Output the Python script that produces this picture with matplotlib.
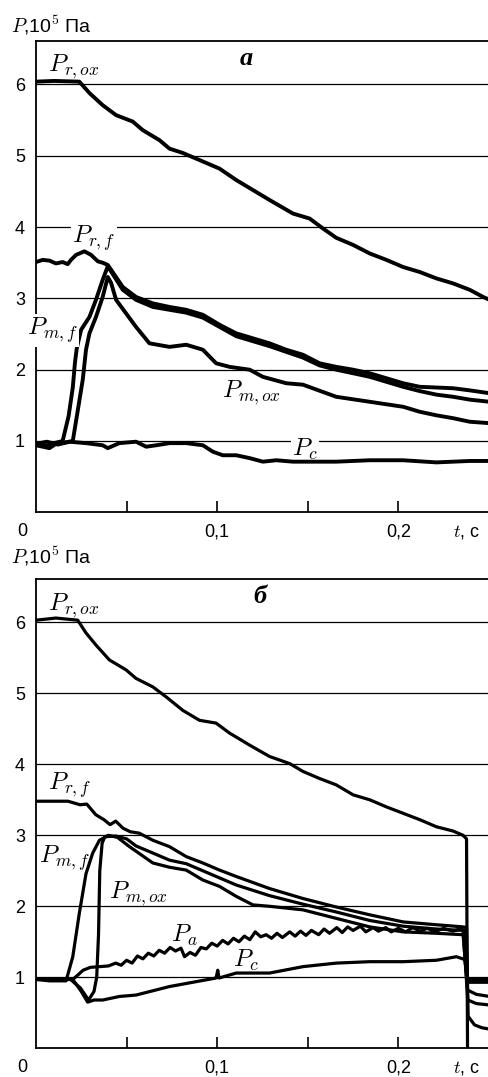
import matplotlib
matplotlib.use('Agg')
import matplotlib.pyplot as plt
from matplotlib.transforms import blended_transform_factory

plt.rcParams['font.family'] = ['Liberation Sans', 'DejaVu Sans']
plt.rcParams['mathtext.fontset'] = 'cm'

# ---------------- panel "а" ----------------
a_rox_t = [0, 0.010, 0.0239, 0.0295, 0.0368, 0.0442, 0.0534, 0.0589, 0.0681, 0.0737, 0.0810,
           0.0884, 0.1013, 0.1105, 0.1197, 0.1289, 0.1418, 0.1510, 0.1584, 0.1657, 0.1750,
           0.1842, 0.1934, 0.2026, 0.2118, 0.2210, 0.2302, 0.2394, 0.2468, 0.2503]
a_rox_p = [6.04, 6.05, 6.04, 5.88, 5.71, 5.57, 5.48, 5.36, 5.22, 5.10, 5.04,
           4.96, 4.82, 4.66, 4.52, 4.38, 4.19, 4.12, 3.98, 3.85, 3.75,
           3.63, 3.54, 3.44, 3.37, 3.28, 3.21, 3.12, 3.02, 2.98]

a_rf_t = [0, 0.0037, 0.0074, 0.011, 0.0147, 0.0175, 0.0193, 0.0221, 0.0267, 0.0304, 0.0341,
          0.0368, 0.0396, 0.0479, 0.0552, 0.0645, 0.0737, 0.0829, 0.0921, 0.1013, 0.1105,
          0.1197, 0.1289, 0.1381, 0.1473, 0.1565, 0.1657, 0.1750, 0.1842, 0.1934, 0.2026,
          0.2118, 0.2302, 0.2394, 0.2503]
a_rf_p = [3.51, 3.54, 3.53, 3.49, 3.51, 3.48, 3.54, 3.61, 3.66, 3.61, 3.52,
          3.50, 3.47, 3.16, 3.02, 2.93, 2.88, 2.84, 2.77, 2.63, 2.51,
          2.44, 2.37, 2.28, 2.21, 2.09, 2.04, 2.00, 1.95, 1.88, 1.81,
          1.76, 1.74, 1.71, 1.67]

a_mf_t = [0, 0.005, 0.010, 0.0147, 0.0180, 0.0203, 0.0215, 0.0225, 0.0249, 0.0295, 0.0331,
          0.0368, 0.0396, 0.0479, 0.0552, 0.0645, 0.0737, 0.0829, 0.0921, 0.1013, 0.1105,
          0.1197, 0.1289, 0.1381, 0.1473, 0.1565, 0.1657, 0.1750, 0.1842, 0.1934, 0.2026,
          0.2118, 0.2210, 0.2302, 0.2394, 0.2503]
a_mf_p = [0.97, 0.93, 0.97, 1.00, 1.35, 1.75, 2.10, 2.30, 2.56, 2.74, 2.98,
          3.26, 3.45, 3.12, 2.98, 2.88, 2.84, 2.80, 2.73, 2.60, 2.47,
          2.40, 2.33, 2.25, 2.17, 2.06, 2.00, 1.95, 1.90, 1.83, 1.76,
          1.70, 1.65, 1.62, 1.58, 1.55]

a_mox_t = [0, 0.006, 0.012, 0.0203, 0.0230, 0.0258, 0.0276, 0.0295, 0.0331, 0.0368, 0.0396,
           0.0414, 0.0442, 0.0497, 0.0552, 0.0626, 0.0737, 0.0829, 0.0921, 0.0994, 0.1068,
           0.1179, 0.1252, 0.1381, 0.1473, 0.1657, 0.1842, 0.2026, 0.2118, 0.2210, 0.2302,
           0.2394, 0.2503]
a_mox_p = [0.96, 0.99, 0.95, 1.00, 1.42, 1.86, 2.28, 2.51, 2.74, 3.02, 3.30,
           3.22, 2.98, 2.79, 2.60, 2.37, 2.32, 2.35, 2.28, 2.09, 2.04,
           2.00, 1.90, 1.81, 1.79, 1.62, 1.55, 1.48, 1.41, 1.36, 1.32,
           1.27, 1.25]

a_c_t = [0, 0.0037, 0.0074, 0.011, 0.0184, 0.0276, 0.0368, 0.0396, 0.046, 0.0552, 0.0608,
         0.0663, 0.0737, 0.0829, 0.0921, 0.0976, 0.1031, 0.1105, 0.1179, 0.1252, 0.1326,
         0.1418, 0.1565, 0.1657, 0.1842, 0.2026, 0.2210, 0.2394, 0.2503]
a_c_p = [0.94, 0.92, 0.90, 0.96, 0.99, 0.97, 0.94, 0.90, 0.97, 0.99, 0.92,
         0.94, 0.97, 0.97, 0.94, 0.85, 0.80, 0.80, 0.76, 0.71, 0.73,
         0.71, 0.71, 0.71, 0.73, 0.73, 0.70, 0.72, 0.72]

# ---------------- panel "б" ----------------
b_rox_t = [0, 0.011, 0.023, 0.0276, 0.0331, 0.0405, 0.0497, 0.0552, 0.0645, 0.0718, 0.0810,
           0.0902, 0.0994, 0.1068, 0.1179, 0.1289, 0.1400, 0.1473, 0.1565, 0.1657, 0.1750,
           0.1842, 0.1934, 0.2026, 0.2118, 0.2210, 0.2302, 0.2357, 0.2376, 0.2382]
b_rox_p = [6.03, 6.06, 6.03, 5.85, 5.68, 5.47, 5.33, 5.21, 5.09, 4.95, 4.76,
           4.62, 4.58, 4.44, 4.27, 4.11, 4.01, 3.90, 3.80, 3.71, 3.57,
           3.50, 3.40, 3.31, 3.22, 3.12, 3.06, 3.00, 2.95, -0.25]

b_rf_t = [0, 0.0177, 0.0243, 0.028, 0.033, 0.0375, 0.0409, 0.044, 0.048, 0.052, 0.057,
          0.0645, 0.0737, 0.0829, 0.0921, 0.1013, 0.1105, 0.1289, 0.1473, 0.1657, 0.1842,
          0.2026, 0.2210, 0.2357, 0.2376, 0.2385, 0.2420, 0.2460, 0.2503]
b_rf_p = [3.48, 3.48, 3.43, 3.44, 3.29, 3.22, 3.15, 3.20, 3.10, 3.05, 3.03,
          2.93, 2.84, 2.70, 2.61, 2.51, 2.42, 2.25, 2.11, 1.99, 1.88,
          1.78, 1.74, 1.71, 1.70, 0.45, 0.33, 0.29, 0.27]

b_mf_t = [0, 0.0074, 0.0166, 0.0203, 0.0239, 0.0276, 0.0313, 0.0350, 0.0387, 0.0440, 0.0500,
          0.0552, 0.0645, 0.0737, 0.0829, 0.0921, 0.1013, 0.1105, 0.1289, 0.1473, 0.1657,
          0.1842, 0.2026, 0.2210, 0.2357, 0.2383, 0.2430, 0.2503]
b_mf_p = [0.97, 0.95, 0.95, 1.29, 1.90, 2.46, 2.75, 2.93, 2.98, 2.99, 2.95,
          2.85, 2.75, 2.65, 2.60, 2.50, 2.40, 2.30, 2.15, 2.03, 1.92,
          1.80, 1.72, 1.68, 1.66, 0.68, 0.63, 0.61]

b_mox_t = [0, 0.019, 0.0245, 0.029, 0.032, 0.0335, 0.0345, 0.0352, 0.0365, 0.0380, 0.0400,
           0.0450, 0.0516, 0.0645, 0.0737, 0.0829, 0.0921, 0.1013, 0.1105, 0.1197, 0.1289,
           0.1473, 0.1657, 0.1842, 0.2026, 0.2210, 0.2357, 0.2382, 0.2430, 0.2503]
b_mox_p = [0.97, 0.97, 0.85, 0.68, 0.80, 1.00, 1.60, 2.50, 2.89, 2.98, 3.00,
           2.97, 2.84, 2.61, 2.55, 2.51, 2.37, 2.28, 2.14, 2.02, 2.00,
           1.95, 1.83, 1.71, 1.64, 1.62, 1.60, 0.82, 0.76, 0.73]

b_a_t = [0, 0.0203, 0.023, 0.026, 0.030, 0.035, 0.040, 0.044, 0.047, 0.050, 0.053,
         0.056, 0.059, 0.062, 0.065, 0.068, 0.071, 0.074, 0.077, 0.080, 0.082,
         0.085, 0.088, 0.091, 0.094, 0.097, 0.100, 0.103, 0.106, 0.109, 0.112,
         0.115, 0.118, 0.121, 0.124, 0.127, 0.130, 0.133, 0.136, 0.140, 0.143,
         0.146, 0.149, 0.152, 0.156, 0.159, 0.162, 0.166, 0.169, 0.172, 0.175,
         0.179, 0.182, 0.186, 0.189, 0.193, 0.196, 0.200, 0.204, 0.208, 0.212,
         0.216, 0.220, 0.225, 0.230, 0.234, 0.2370, 0.2382, 0.2503]
b_a_p = [0.97, 0.97, 1.03, 1.10, 1.14, 1.15, 1.16, 1.20, 1.17, 1.24, 1.20,
         1.30, 1.26, 1.34, 1.30, 1.38, 1.34, 1.42, 1.37, 1.41, 1.29,
         1.35, 1.31, 1.42, 1.40, 1.48, 1.44, 1.52, 1.47, 1.55, 1.50,
         1.58, 1.53, 1.64, 1.57, 1.60, 1.55, 1.62, 1.56, 1.64, 1.58,
         1.65, 1.59, 1.66, 1.60, 1.68, 1.62, 1.70, 1.63, 1.71, 1.66,
         1.72, 1.64, 1.70, 1.65, 1.70, 1.64, 1.69, 1.64, 1.70, 1.65,
         1.69, 1.64, 1.69, 1.65, 1.68, 1.66, 0.93, 0.93]

b_c_t = [0, 0.0203, 0.025, 0.0285, 0.032, 0.0368, 0.046, 0.0552, 0.0737, 0.0994, 0.1003,
         0.1010, 0.1105, 0.1289, 0.1473, 0.1657, 0.1842, 0.2026, 0.2210, 0.2320, 0.2367,
         0.2380, 0.2503]
b_c_p = [0.97, 0.97, 0.80, 0.65, 0.68, 0.68, 0.73, 0.75, 0.87, 0.99, 1.10,
         0.99, 1.06, 1.06, 1.15, 1.20, 1.22, 1.22, 1.24, 1.29, 1.25,
         0.97, 0.97]

x_ticks = [0.05, 0.10, 0.15, 0.20]
x_tick_labels = ['', '0,1', '', '0,2']
y_ticks = [1, 2, 3, 4, 5, 6]

fig = plt.figure(figsize=(4.89, 10.77), dpi=100)
H = 1077.0
W = 489.0
ax1 = fig.add_axes([36 / W, 1 - 512.3 / H, (W - 36) / W, (512.3 - 41) / H])
ax2 = fig.add_axes([36 / W, 1 - 1048.3 / H, (W - 36) / W, (1048.3 - 579) / H])

tfs = 13


def style(ax, ytop, ylab_dy):
    ax.set_xlim(0, 0.25)
    ax.set_ylim(0, ytop)
    ax.set_xticks(x_ticks)
    ax.set_xticklabels(x_tick_labels)
    ax.set_yticks(y_ticks)
    ax.set_yticklabels([str(v) for v in y_ticks])
    ax.tick_params(axis='x', direction='in', length=8, width=1.2, pad=8, labelsize=tfs)
    ax.tick_params(axis='y', length=0, pad=8, labelsize=tfs)
    ax.yaxis.grid(True, color='black', lw=0.9, zorder=0.5)
    ax.set_axisbelow(True)
    ax.spines['right'].set_visible(False)
    for s in ('left', 'bottom', 'top'):
        ax.spines[s].set_linewidth(1.3)
    tr = blended_transform_factory(ax.transData, ax.transAxes)
    ax.annotate('0', xy=(0, 0), xycoords=tr, xytext=(-9.5, -8), textcoords='offset points',
                ha='center', va='top', fontsize=tfs, annotation_clip=False)
    ax.annotate('$t$, с', xy=(0.2376, 0), xycoords=tr, xytext=(0, -8), textcoords='offset points',
                ha='center', va='top', fontsize=tfs, annotation_clip=False)
    ax.annotate(r'$P$,10$^{\mathsf{5}}$ Па', xy=(0, 1), xycoords='axes fraction',
                xytext=(-18, ylab_dy), textcoords='offset points', ha='left', va='baseline',
                fontsize=14, annotation_clip=False)


style(ax1, 6.61, 6)
style(ax2, 6.61, 11)

lw1 = 2.8
lw2 = 2.3
for t, p in [(a_rox_t, a_rox_p), (a_rf_t, a_rf_p), (a_mf_t, a_mf_p), (a_mox_t, a_mox_p), (a_c_t, a_c_p)]:
    ax1.plot(t, p, color='black', lw=lw1, solid_joinstyle='round', zorder=2)
for t, p in [(b_rox_t, b_rox_p), (b_rf_t, b_rf_p), (b_mf_t, b_mf_p), (b_mox_t, b_mox_p), (b_a_t, b_a_p), (b_c_t, b_c_p)]:
    ax2.plot(t, p, color='black', lw=lw2, solid_joinstyle='round', zorder=2)

fs = 18
wb = dict(facecolor='white', edgecolor='none', pad=1.0)
# panel a labels
ax1.text(0.0066, 6.18, r'$P_{r,ox}$', fontsize=fs, ha='left', va='baseline')
ax1.text(0.116, 6.27, 'а', fontsize=19, ha='center', va='baseline',
         family=['Liberation Serif', 'DejaVu Serif'], style='italic', weight='bold')
ax1.text(0.0199, 3.78, r'$P_{r,f}$', fontsize=fs, ha='left', va='baseline', bbox=wb, zorder=1.5)
ax1.text(-0.0050, 2.49, r'$P_{m,f}$', fontsize=fs, ha='left', va='baseline', bbox=wb, zorder=2.7,
         clip_on=False)
ax1.text(0.1028, 1.62, r'$P_{m,ox}$', fontsize=fs, ha='left', va='baseline')
ax1.text(0.1414, 0.80, r'$P_c$', fontsize=fs, ha='left', va='baseline', bbox=wb, zorder=1.5)

# panel б labels
ax2.text(0.0066, 6.17, r'$P_{r,ox}$', fontsize=fs, ha='left', va='baseline')
ax2.text(0.1238, 6.27, 'б', fontsize=19, ha='center', va='baseline',
         family=['Liberation Serif', 'DejaVu Serif'], style='italic', weight='bold')
ax2.text(0.0066, 3.64, r'$P_{r,f}$', fontsize=fs, ha='left', va='baseline')
ax2.text(0.0017, 2.62, r'$P_{m,f}$', fontsize=fs, ha='left', va='baseline', bbox=wb, zorder=1.5)
ax2.text(0.0403, 2.12, r'$P_{m,ox}$', fontsize=fs, ha='left', va='baseline')
ax2.text(0.0746, 1.50, r'$P_a$', fontsize=fs, ha='left', va='baseline')
ax2.text(0.1088, 1.15, r'$P_c$', fontsize=fs, ha='left', va='baseline')

fig.savefig('out.png', dpi=100, facecolor='white')
